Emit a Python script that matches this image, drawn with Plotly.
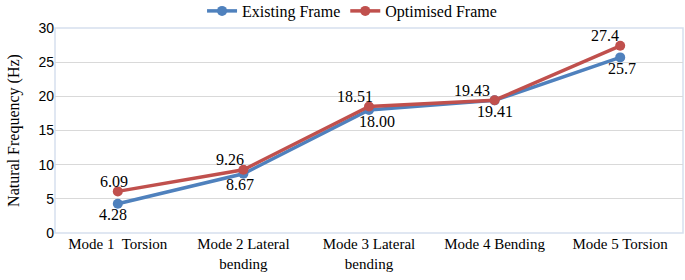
import plotly.graph_objects as go

categories = ["Mode 1  Torsion", "Mode 2 Lateral<br>bending", "Mode 3 Lateral<br>bending",
              "Mode 4 Bending", "Mode 5 Torsion"]
existing = [4.28, 8.67, 18.00, 19.41, 25.7]
existing_labels = ["4.28", "8.67", "18.00", "19.41", "25.7"]
optimised = [6.09, 9.26, 18.51, 19.43, 27.4]
optimised_labels = ["6.09", "9.26", "18.51", "19.43", "27.4"]
y_ticks = [0, 5, 10, 15, 20, 25, 30]

# label pixel offsets (style only)
existing_dx = [-5, -3, 8, 0, 2]
optimised_dx = [-4, -13, -14, -23, -15]

BLUE = "#4F81BD"
RED = "#C0504D"
serif = "Liberation Serif, Times New Roman, serif"

fig = go.Figure()
fig.add_trace(go.Scatter(
    x=categories, y=existing, name="Existing Frame", mode="lines+markers",
    line=dict(color=BLUE, width=3.5), marker=dict(color=BLUE, size=10),
    cliponaxis=False,
))
fig.add_trace(go.Scatter(
    x=categories, y=optimised, name="Optimised Frame", mode="lines+markers",
    line=dict(color=RED, width=3.5), marker=dict(color=RED, size=10),
    cliponaxis=False,
))

for c, v, t, dx in zip(categories, existing, existing_labels, existing_dx):
    fig.add_annotation(x=c, y=v, text=t, showarrow=False, xshift=dx, yshift=-11,
                       font=dict(family=serif, size=16, color="#000"))
for c, v, t, dx in zip(categories, optimised, optimised_labels, optimised_dx):
    fig.add_annotation(x=c, y=v, text=t, showarrow=False, xshift=dx, yshift=10,
                       font=dict(family=serif, size=16, color="#000"))

fig.update_layout(
    width=685, height=280,
    margin=dict(l=55, r=2, t=28, b=47, autoexpand=False),
    paper_bgcolor="white", plot_bgcolor="white",
    font=dict(family=serif, color="#000"),
    legend=dict(orientation="h", x=0.473, xanchor="center", y=1.083, yanchor="middle",
                font=dict(family=serif, size=16), bgcolor="rgba(0,0,0,0)",
                itemwidth=30, tracegroupgap=0),
    showlegend=True,
)
fig.update_xaxes(
    type="category", range=[-0.5, 4.5], showgrid=False, zeroline=False, showline=False,
    tickfont=dict(family=serif, size=15, color="#000"), ticks="",
)
fig.update_yaxes(
    range=[0, 30], tickvals=y_ticks, showgrid=True, gridcolor="#D9D9D9", gridwidth=1,
    zeroline=False, showline=False, ticks="",
    tickfont=dict(family="Liberation Sans, Arial, sans-serif", size=14, color="#000"),
    title=dict(text="Natural Frequency (Hz)", font=dict(family=serif, size=16, color="#000"),
               standoff=14),
)
fig.add_shape(type="rect", xref="paper", yref="paper", x0=0, x1=1, y0=0, y1=1,
              line=dict(color="#D6E0EE", width=1.5), layer="below")

fig.write_html("out.html", config={"displayModeBar": False},
               post_script="document.body.style.margin='0';document.body.style.padding='0';")
